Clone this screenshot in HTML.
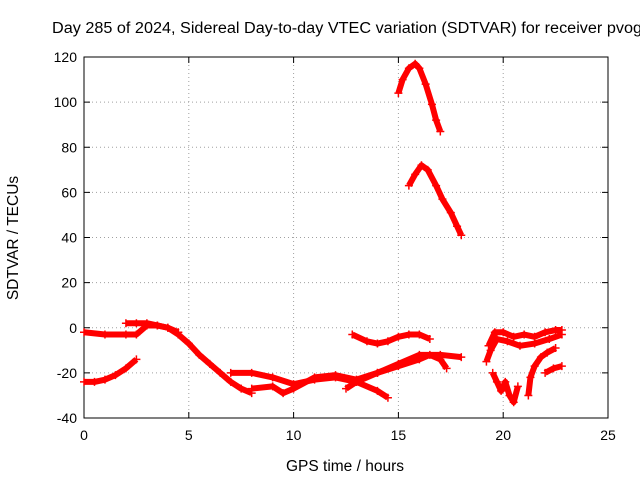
<!DOCTYPE html>
<html><head><meta charset="utf-8"><style>
body{margin:0;background:#fff}
svg{display:block;font-family:"Liberation Sans",sans-serif}
</style></head><body>
<svg id="chart" width="640" height="480">
<rect width="640" height="480" fill="#fff"/>
<text x="52" y="33" font-size="15.5" textLength="590" lengthAdjust="spacingAndGlyphs">Day 285 of 2024, Sidereal Day-to-day VTEC variation (SDTVAR) for receiver pvog</text>
<g id="grid"></g><g id="axes"></g><g id="series"></g>
<text x="345" y="471" font-size="15.5" text-anchor="middle">GPS time / hours</text>
<text transform="translate(18,238) rotate(-90)" font-size="15.5" text-anchor="middle">SDTVAR / TECUs</text>
</svg>
<script>
const xTicks=[0,5,10,15,20,25];
const yTicks=[-40,-20,0,20,40,60,80,100,120];
const arcTopX=[15.0,15.2,15.5,15.8,16.0,16.3,16.6,16.8,17.0];
const arcTopY=[104,110,115,117,115,108,99,92,87];
const arc2X=[15.5,15.8,16.1,16.4,16.8,17.1,17.5,17.8,18.0];
const arc2Y=[63,68,72,70,63,57,51,45,41];
const s3X=[0,1,2,2.5,3,3.5,4,4.5,5,5.5,6,6.5,7,7.5,8];
const s3Y=[-2,-3,-3,-3,1,1,0,-3,-7,-12,-16,-20,-24,-27,-29];
const s3bX=[2,2.5,3,3.5,4,4.5];
const s3bY=[2,2,2,1,0,-2];
const s4X=[0,0.5,1,1.5,2,2.5];
const s4Y=[-24,-24,-23,-21,-18,-14];
const s5X=[7,8,9,10,11,12,13,14,14.5];
const s5Y=[-20,-20,-22,-25,-23,-22,-24,-28,-31];
const s6X=[8,9,9.5,10,11,12,13,14,15,16,17,18];
const s6Y=[-27,-26,-29,-27,-22,-21,-23,-20,-16,-12,-12,-13];
const s7X=[12.8,13.5,14,14.5,15,15.5,16,16.5];
const s7Y=[-3,-6,-7,-6,-4,-3,-3,-5];
const s8X=[12.5,13,14,15,16,16.5,17,17.3];
const s8Y=[-27,-24,-20,-17,-14,-12,-14,-18];
const s9X=[19.3,19.6,20,20.5,21,21.5,22,22.5,22.8];
const s9Y=[-8,-2,-2,-4,-3,-4,-2,-1,-1];
const s10X=[19.2,19.4,19.7,20.2,20.8,21.5,22.2,22.8];
const s10Y=[-15,-10,-5,-6,-8,-7,-5,-3];
const s11X=[19.5,19.7,19.9,20.1,20.3,20.5,20.7];
const s11Y=[-20,-24,-28,-24,-30,-33,-26];
const s12X=[21.2,21.3,21.5,21.8,22.1,22.5];
const s12Y=[-30,-22,-17,-13,-11,-9];
const s13X=[22,22.4,22.8];
const s13Y=[-20,-18,-17];
const seriesX=[arcTopX,arc2X,s3X,s3bX,s4X,s5X,s6X,s7X,s8X,s9X,s10X,s11X,s12X,s13X];
const seriesY=[arcTopY,arc2Y,s3Y,s3bY,s4Y,s5Y,s6Y,s7Y,s8Y,s9Y,s10Y,s11Y,s12Y,s13Y];
const L=84,R=608,T=57,B=418;
const sx=v=>L+(v-0)/(25-0)*(R-L);
const sy=v=>B-(v+40)/160*(B-T);
const NS="http://www.w3.org/2000/svg";
function mk(tag,attrs,parent){const e=document.createElementNS(NS,tag);for(const k in attrs)e.setAttribute(k,attrs[k]);parent.appendChild(e);return e;}
const grid=document.getElementById('grid'),axes=document.getElementById('axes'),ser=document.getElementById('series');
xTicks.forEach(t=>{const x=sx(t);
 if(t>0&&t<25){const g=mk('line',{x1:x,x2:x,y1:T,y2:B,stroke:'#a0a0a0','stroke-dasharray':'1,3'},grid);
 
 }
 mk('line',{x1:x,x2:x,y1:B,y2:B-6,stroke:'#000'},axes);
 mk('line',{x1:x,x2:x,y1:T,y2:T+6,stroke:'#000'},axes);
 const tx=mk('text',{x:x,y:B+22,'font-size':14,'text-anchor':'middle'},axes);tx.textContent=t;
 
 });
yTicks.forEach(t=>{const y=sy(t);
 if(t>-40&&t<120){const g=mk('line',{x1:L,x2:R,y1:y,y2:y,stroke:'#a0a0a0','stroke-dasharray':'1,3'},grid);
 
 }
 mk('line',{x1:L,x2:L+6,y1:y,y2:y,stroke:'#000'},axes);
 mk('line',{x1:R,x2:R-6,y1:y,y2:y,stroke:'#000'},axes);
 const tx=mk('text',{x:L-7,y:y+5,'font-size':14,'text-anchor':'end'},axes);tx.textContent=t;
 
 });
const fr=mk('rect',{x:L,y:T,width:R-L,height:B-T,fill:'none',stroke:'#000'},axes);


seriesX.forEach((xs,i)=>{const ys=seriesY[i];
 const pts=xs.map((v,j)=>sx(v)+','+sy(ys[j])).join(' ');
 const pl=mk('polyline',{points:pts,fill:'none',stroke:'#f00','stroke-width':6,'stroke-linejoin':'round'},ser);
 
 
 xs.forEach((v,j)=>{const x=sx(v),y=sy(ys[j]);
  const p=mk('path',{d:`M${x-4},${y}H${x+4}M${x},${y-4}V${y+4}`,stroke:'#f00','stroke-width':1.5},ser);
  
  });
});
</script>
</body></html>
